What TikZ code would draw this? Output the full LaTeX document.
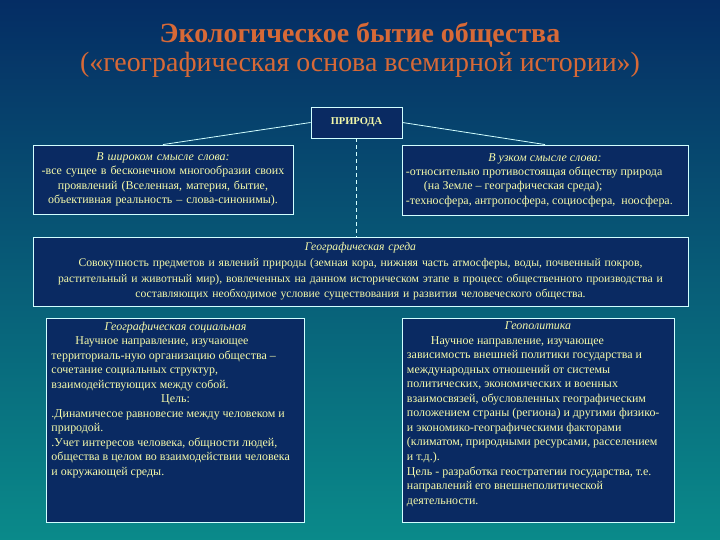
\documentclass[tikz,border=0pt]{standalone}
\usepackage{fontspec}
\setmainfont{Liberation Serif}
\usetikzlibrary{positioning}
\definecolor{cBgTop}{RGB}{5,45,100}
\definecolor{cBgMid}{RGB}{5,90,122}
\definecolor{cBgBot}{RGB}{10,138,138}
\definecolor{cPanel}{RGB}{10,42,98}
\definecolor{cEdge}{RGB}{210,255,255}
\definecolor{cText}{RGB}{245,250,170}
\definecolor{cTitle}{RGB}{215,105,55}
\newcommand{\ctrline}[1]{\hfill#1\hfill\null}
\tikzset{
	panel/.style ={rectangle, draw=cEdge, line width=0.9pt, fill=cPanel, text=cText, inner sep=3pt, font=\fontsize{12}{14.4}\selectfont},
	ptext/.style ={text=cText, align=flush left, inner sep=0pt, font=\fontsize{12}{14.6}\selectfont},
	link/.style  ={draw=cEdge, line width=0.8pt},
}
\begin{document}
\begin{tikzpicture}[x=1bp, y=-1bp]
	\useasboundingbox (0bp,0bp) rectangle (720bp,-540bp);
	\shade[top color=cBgTop, middle color=cBgMid, bottom color=cBgBot] (0bp,0bp) rectangle (720bp,-540bp);
	% title
	\node[text=cTitle, font=\bfseries\fontsize{28}{30}\selectfont] (ttl) at (360,35) {Экологическое бытие общества};
	\node[text=cTitle, font=\fontsize{28}{30}\selectfont] (sub) at (360,65) {(«географическая основа всемирной истории»)};
	% top row
	\node[panel, minimum width=91bp, minimum height=31bp, font=\bfseries\fontsize{10.5}{12}\selectfont] (prir) at (356.5,122.5) {ПРИРОДА};
	\node[panel, minimum width=260bp, minimum height=69bp, text width=254bp, align=center] (wide) at (163,179.5)
		{\textit{В широком смысле слова:}\\ -все сущее в бесконечном многообразии своих\\ проявлений (Вселенная, материя, бытие,\\ объективная реальность – слова-синонимы).};
	\node[panel, minimum width=286bp, minimum height=70bp, text width=278bp, align=flush left] (narrow) at (545,180)
		{\ctrline{\textit{В узком смысле слова:}}\\ -относительно противостоящая обществу природа\\ \hspace*{1.5em}(на Земле – географическая среда);\\ -техносфера, антропосфера, социосфера,\ \ ноосфера.};
	\draw[link] (prir.west) -- (wide.north);
	\draw[link] (prir.east) -- (narrow.north);
	% middle
	\node[panel, minimum width=655bp, minimum height=69bp, text width=647bp, align=center, font=\fontsize{11.7}{15.6}\selectfont] (geo) at (360.5,271.5)
		{\textit{Географическая среда}\\ Совокупность предметов и явлений природы (земная кора, нижняя часть атмосферы, воды, почвенный покров,\\ растительный и животный мир), вовлеченных на данном историческом этапе в процесс общественного производства и\\ составляющих необходимое условие существования и развития человеческого общества.};
	\draw[link, dash pattern=on 4pt off 3pt] (prir.south) -- (prir.south |- geo.north);
	% bottom row
	\node[panel, minimum width=258bp, minimum height=204bp] (soc) at (175.5,420) {};
	\node[ptext, text width=248bp, anchor=north, yshift=-4pt] (soctxt) at (soc.north)
		{\ctrline{\textit{Географическая социальная}}\\ \hspace*{2em}Научное направление, изучающее\\ территориаль-ную организацию общества –\\ сочетание социальных структур,\\ взаимодействующих между собой.\\ \ctrline{Цель:}\\ .Динамичесое равновесие между человеком и\\ природой.\\ .Учет интересов человека, общности людей,\\ общества в целом во взаимодействии человека\\ и окружающей среды.};
	\node[panel, minimum width=272bp, minimum height=204bp] (gpol) at (538,420) {};
	\node[ptext, text width=262bp, anchor=north, yshift=-4pt] (gpoltxt) at (gpol.north)
		{\ctrline{\textit{Геополитика}}\\ \hspace*{2em}Научное направление, изучающее\\ зависимость внешней политики государства и\\ международных отношений от системы\\ политических, экономических и военных\\ взаимосвязей, обусловленных географическим\\ положением страны (региона) и другими физико-\\ и экономико-географическими факторами\\ (климатом, природными ресурсами, расселением\\ и т.д.).\\ Цель - разработка геостратегии государства, т.е.\\ направлений его внешнеполитической\\ деятельности.};
\end{tikzpicture}
\end{document}
